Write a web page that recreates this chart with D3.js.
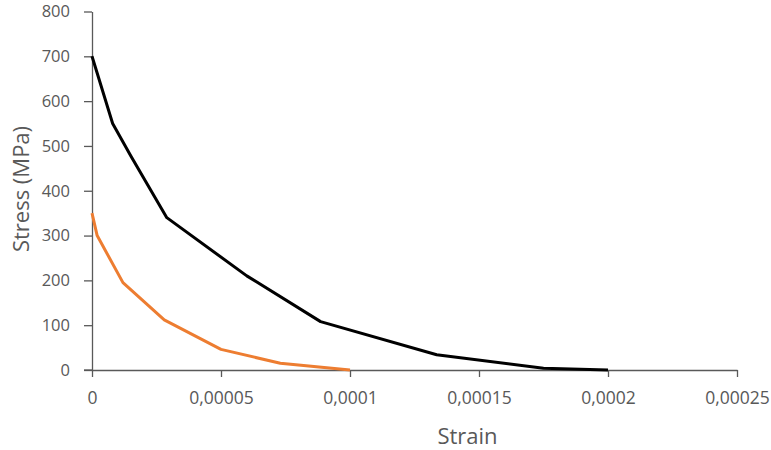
<!DOCTYPE html>
<html><head><meta charset="utf-8">
<script src="https://cdn.jsdelivr.net/npm/d3@7"></script>
<style>body{margin:0;background:#fff}text{font-family:"Open Sans",sans-serif}</style>
</head><body><svg id="c" width="771" height="450"></svg>
<script>
const blackStrain = [0, 0.000008, 0.000015, 0.000029, 0.00006, 0.0000886, 0.0001336, 0.000175, 0.0002];
const blackStress = [700, 550, 478, 340, 210, 108, 34, 4, 0];
const orangeStrain = [0, 0.000002, 0.000012, 0.000028, 0.00005, 0.000073, 0.0001];
const orangeStress = [350, 300, 195, 112, 46, 15, 0];
const xTicks = [0, 0.00005, 0.0001, 0.00015, 0.0002, 0.00025];
const xTickLabels = ["0", "0,00005", "0,0001", "0,00015", "0,0002", "0,00025"];
const yTicks = [0, 100, 200, 300, 400, 500, 600, 700, 800];

const svg = d3.select("#c");
const x = d3.scaleLinear().domain([0, 0.00025]).range([92, 737]);
const y = d3.scaleLinear().domain([0, 800]).range([370, 11.5]);
const axisColor = "#595959", labelColor = "#595959";

const xa = svg.append("g").attr("transform", "translate(0,370)")
  .call(d3.axisBottom(x).tickValues(xTicks).tickFormat((d, i) => xTickLabels[i]).tickSizeOuter(0).tickSizeInner(7).tickPadding(15));
const ya = svg.append("g").attr("transform", "translate(92,0)")
  .call(d3.axisLeft(y).tickValues(yTicks).tickSizeOuter(0).tickSizeInner(8).tickPadding(14));
[xa, ya].forEach(g => {
  g.select(".domain").attr("stroke", axisColor).attr("stroke-width", 1.3);
  g.selectAll(".tick line").attr("stroke", axisColor).attr("stroke-width", 1.3);
  g.selectAll(".tick text").attr("fill", labelColor).style("font-size", "16.5px");
});
xa.selectAll(".tick text").style("font-size", "17.5px");
// extend x axis line left to cross y axis
svg.append("line").attr("x1", 84).attr("x2", 92).attr("y1", 370).attr("y2", 370).attr("stroke", axisColor).attr("stroke-width", 1.3);

const line = d3.line().x(d => x(d[0])).y(d => y(d[1]));
svg.append("path").datum(blackStrain.map((s, i) => [s, blackStress[i]]))
  .attr("d", line).attr("fill", "none").attr("stroke", "#000").attr("stroke-width", 3).attr("stroke-linejoin", "round");
svg.append("path").datum(orangeStrain.map((s, i) => [s, orangeStress[i]]))
  .attr("d", line).attr("fill", "none").attr("stroke", "#ED7D31").attr("stroke-width", 3).attr("stroke-linejoin", "round");

svg.append("text").attr("x", 467.5).attr("y", 444).attr("text-anchor", "middle")
  .attr("fill", labelColor).style("font-size", "22px").text("Strain");
svg.append("text").attr("transform", "translate(29,189) rotate(-90)").attr("text-anchor", "middle")
  .attr("fill", labelColor).style("font-size", "22px").text("Stress (MPa)");
</script></body></html>
